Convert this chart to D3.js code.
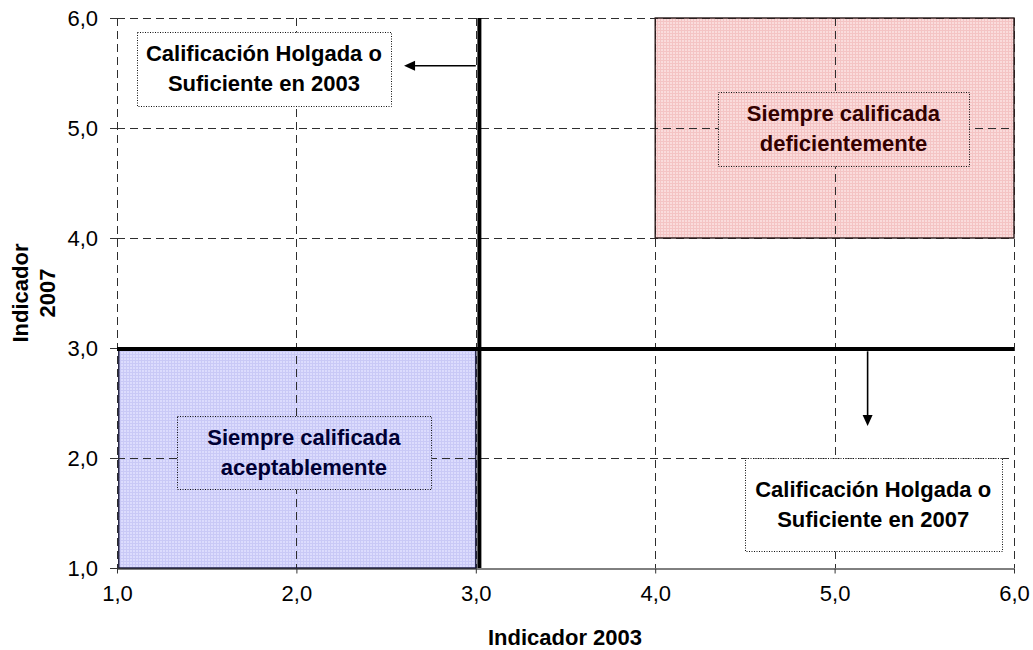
<!DOCTYPE html>
<html>
<head>
<meta charset="utf-8">
<script src="https://cdn.jsdelivr.net/npm/d3@7"></script>
<style>
  html, body { margin: 0; padding: 0; background: #fff; }
  svg { display: block; font-family: "Liberation Sans", Arial, sans-serif; }
</style>
</head>
<body>
<svg id="chart" width="1033" height="650"></svg>
<script>
// ---- data ----
const xDomain = [1, 6];
const yDomain = [1, 6];
const xTickValues = [1, 2, 3, 4, 5, 6];
const yTickValues = [1, 2, 3, 4, 5, 6];
const xTitle = "Indicador 2003";
const yTitleLines = ["Indicador", "2007"];

// shaded regions (data units)
const regionKeys = ["acept", "defic"];
const regionX = [[1.01, 3.0], [4.0, 6.0]];
const regionY = [[1.0, 3.0], [4.0, 6.0]];

// threshold lines
const thresholdX = 3.02;   // Indicador 2003
const thresholdY = 2.99;   // Indicador 2007

// annotation boxes (data units) and their texts
const boxLines = [
  ["Calificación Holgada o", "Suficiente en 2003"],
  ["Siempre calificada", "deficientemente"],
  ["Siempre calificada", "aceptablemente"],
  ["Calificación Holgada o", "Suficiente en 2007"]
];
const boxX = [[1.111, 2.527], [4.350, 5.749], [1.334, 2.750], [4.50, 5.93]];
const boxY = [[5.873, 5.20], [5.327, 4.655], [2.382, 1.718], [2.0, 1.155]];
const boxRegion = [null, "defic", "acept", null];

// arrows (data units): from -> to
const arrowFrom = [[3.0, 5.566], [5.184, 2.97]];
const arrowTo = [[2.60, 5.566], [5.184, 2.29]];

// ---- drawing ----
const svg = d3.select("#chart");
const x = d3.scaleLinear().domain(xDomain).range([117, 1014]);
const y = d3.scaleLinear().domain(yDomain).range([568, 18]);
const fmt = d => d3.format(".1f")(d).replace(".", ",");

const styles = {
  acept: { fill: "url(#patBlue)", border: "#141438", text: "#000033" },
  defic: { fill: "url(#patRed)", border: "#2a1a1a", text: "#330000" }
};

const defs = svg.append("defs");
const pb = defs.append("pattern").attr("id", "patBlue").attr("patternUnits", "userSpaceOnUse")
  .attr("width", 3).attr("height", 3);
pb.append("rect").attr("width", 3).attr("height", 3).attr("fill", "#dcdcfd");
pb.append("rect").attr("width", 3).attr("height", 1).attr("fill", "#c9c9f6");
pb.append("rect").attr("width", 1).attr("height", 3).attr("fill", "#c9c9f6");
const pr = defs.append("pattern").attr("id", "patRed").attr("patternUnits", "userSpaceOnUse")
  .attr("width", 3).attr("height", 3);
pr.append("rect").attr("width", 3).attr("height", 3).attr("fill", "#fadcdc");
pr.append("rect").attr("width", 3).attr("height", 1).attr("fill", "#f4c4c4");
pr.append("rect").attr("width", 1).attr("height", 3).attr("fill", "#f4c4c4");

// region fills
regionKeys.forEach((k, i) => {
  svg.append("rect")
    .attr("x", x(regionX[i][0])).attr("y", y(regionY[i][1]))
    .attr("width", x(regionX[i][1]) - x(regionX[i][0]))
    .attr("height", y(regionY[i][0]) - y(regionY[i][1]))
    .attr("fill", styles[k].fill);
});

// gridlines (dashed)
const grid = svg.append("g").attr("stroke", "#2e2e2e").attr("stroke-width", 1)
  .attr("stroke-dasharray", "8,5").attr("fill", "none");
xTickValues.forEach(v => {
  grid.append("line").attr("x1", Math.round(x(v)) + 0.5).attr("x2", Math.round(x(v)) + 0.5)
    .attr("y1", y(yDomain[1])).attr("y2", y(yDomain[0]));
});
yTickValues.filter(v => v > yDomain[0]).forEach(v => {
  grid.append("line").attr("y1", Math.round(y(v)) + 0.5).attr("y2", Math.round(y(v)) + 0.5)
    .attr("x1", x(xDomain[0])).attr("x2", x(xDomain[1]));
});

// region borders
regionKeys.forEach((k, i) => {
  svg.append("rect")
    .attr("x", x(regionX[i][0])).attr("y", y(regionY[i][1]))
    .attr("width", x(regionX[i][1]) - x(regionX[i][0]))
    .attr("height", y(regionY[i][0]) - y(regionY[i][1]))
    .attr("fill", "none").attr("stroke", styles[k].border).attr("stroke-width", 1.4);
});

// x axis (solid line, ticks down)
const xAxis = d3.axisBottom(x).tickValues(xTickValues).tickFormat(fmt).tickSize(5).tickSizeOuter(0).tickPadding(12);
const gx = svg.append("g").attr("transform", `translate(0,${y(yDomain[0]) + 0.5})`).call(xAxis);
gx.select(".domain").attr("stroke", "#000").attr("stroke-width", 1);
gx.selectAll(".tick line").attr("stroke", "#333");
gx.selectAll(".tick text").attr("font-size", 22).attr("fill", "#000")
  .attr("font-family", "'Liberation Sans', Arial, sans-serif");

// y axis (no domain line, crossing ticks)
const yAxis = d3.axisLeft(y).tickValues(yTickValues).tickFormat(fmt).tickSize(7).tickSizeOuter(0).tickPadding(12);
const gy = svg.append("g").attr("transform", `translate(${x(xDomain[0])},0)`).call(yAxis);
gy.select(".domain").remove();
gy.selectAll(".tick line").attr("stroke", "#333").attr("x2", 5).attr("x1", -7);
gy.selectAll(".tick text").attr("font-size", 22).attr("fill", "#000").attr("x", -19)
  .attr("font-family", "'Liberation Sans', Arial, sans-serif");

// threshold lines
svg.append("line").attr("x1", x(thresholdX)).attr("x2", x(thresholdX))
  .attr("y1", y(yDomain[1])).attr("y2", y(yDomain[0]))
  .attr("stroke", "#000").attr("stroke-width", 4);
svg.append("line").attr("x1", x(xDomain[0])).attr("x2", x(xDomain[1]))
  .attr("y1", y(thresholdY)).attr("y2", y(thresholdY))
  .attr("stroke", "#000").attr("stroke-width", 4);

// annotation boxes
boxLines.forEach((lines, i) => {
  const x0 = x(boxX[i][0]), x1 = x(boxX[i][1]);
  const y0 = y(boxY[i][0]), y1 = y(boxY[i][1]);
  const st = boxRegion[i] ? styles[boxRegion[i]] : { fill: "#fff", text: "#000" };
  svg.append("rect").attr("x", Math.round(x0) + 0.5).attr("y", Math.round(y0) + 0.5)
    .attr("width", Math.round(x1 - x0)).attr("height", Math.round(y1 - y0))
    .attr("fill", st.fill).attr("stroke", "#111").attr("stroke-width", 1)
    .attr("stroke-dasharray", "1,1.5");
  const cx = (x0 + x1) / 2, cy = (y0 + y1) / 2;
  lines.forEach((t, j) => {
    svg.append("text").attr("x", cx).attr("y", cy - 7.5 + j * 30)
      .attr("text-anchor", "middle").attr("font-size", 22).attr("font-weight", "bold")
      .attr("fill", st.text).text(t);
  });
});

// arrows
arrowFrom.forEach((f, i) => {
  const t = arrowTo[i];
  const x1 = x(f[0]), y1 = y(f[1]), x2 = x(t[0]), y2 = y(t[1]);
  const ang = Math.atan2(y2 - y1, x2 - x1);
  const L = 11, W = 5;
  const bx = x2 - L * Math.cos(ang), by = y2 - L * Math.sin(ang);
  svg.append("line").attr("x1", x1).attr("y1", y1).attr("x2", bx).attr("y2", by)
    .attr("stroke", "#000").attr("stroke-width", 1.6);
  const px = -Math.sin(ang) * W, py = Math.cos(ang) * W;
  svg.append("polygon")
    .attr("points", [[x2, y2], [bx + px, by + py], [bx - px, by - py]].map(p => p.join(",")).join(" "))
    .attr("fill", "#000");
});

// axis titles
svg.append("text").attr("x", 565).attr("y", 645).attr("text-anchor", "middle")
  .attr("font-size", 22).attr("font-weight", "bold").text(xTitle);
const yt = svg.append("text").attr("transform", "translate(0,293) rotate(-90)")
  .attr("text-anchor", "middle").attr("font-size", 22).attr("font-weight", "bold");
yTitleLines.forEach((t, j) => {
  yt.append("tspan").attr("x", 0).attr("y", 28 + j * 27).text(t);
});
</script>
</body>
</html>
